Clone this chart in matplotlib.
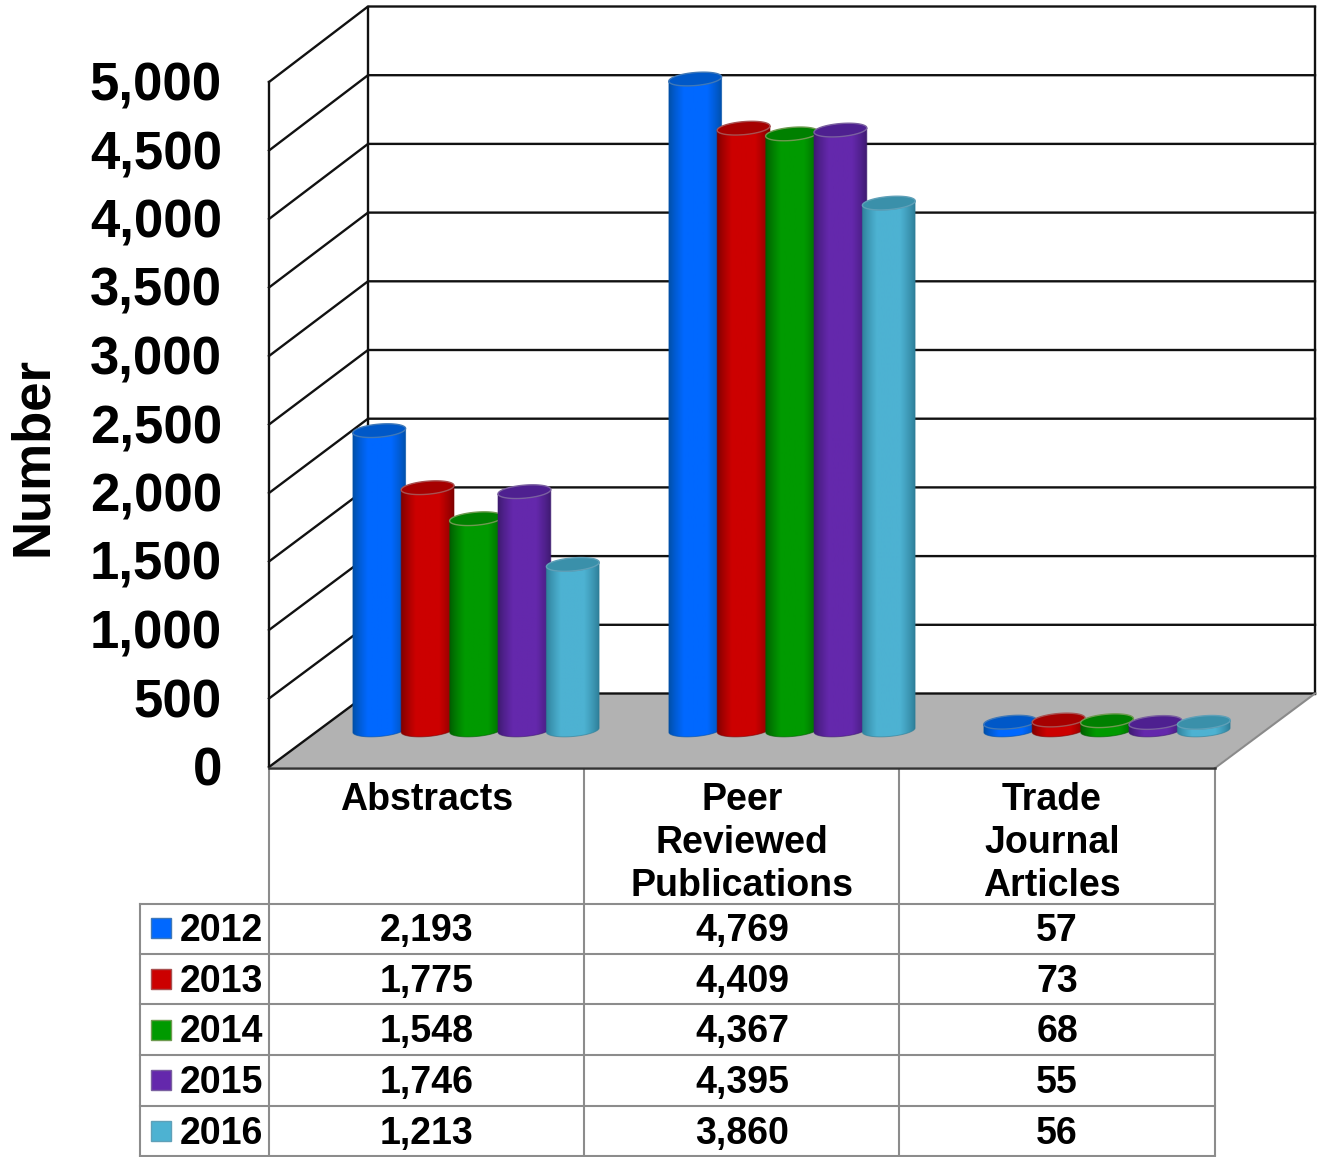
"""Publications by year, drawn as a 3D-look cylinder chart with a data table."""

from __future__ import annotations

import matplotlib

matplotlib.use("Agg")
import matplotlib.pyplot as plt
import numpy as np
from matplotlib.colors import to_rgb
from matplotlib.patches import Polygon, Rectangle

plt.rcParams["font.family"] = ["Liberation Sans", "DejaVu Sans"]

years = ["2012", "2013", "2014", "2015", "2016"]
abstracts = [2193, 1775, 1548, 1746, 1213]
peer_reviewed = [4769, 4409, 4367, 4395, 3860]
trade_journal = [57, 73, 68, 55, 56]
category_labels = ["Abstracts", "Peer\nReviewed\nPublications", "Trade\nJournal\nArticles"]
y_ticks = [0, 500, 1000, 1500, 2000, 2500, 3000, 3500, 4000, 4500, 5000]

# main, edge shade, cap, rim
palette = [
    ("#0068FF", "#004FA8", "#0058C8", "#3F78B8"),
    ("#CC0000", "#7E0000", "#A60000", "#A85050"),
    ("#009A00", "#005F00", "#008000", "#6E9A50"),
    ("#6428AC", "#3E1A70", "#4E2090", "#7A60A0"),
    ("#4DB2D2", "#2E7F99", "#3A90AA", "#5FA0B8"),
]

W, H = 1319, 1157
FRONT_SCALE = 0.137
BACK_SCALE = 0.1374
BAR_SCALE = 0.1365
FRONT_ZERO = 767
BACK_ZERO = 693.5
FRONT_LEFT, FRONT_RIGHT = 269, 1215
BACK_LEFT, BACK_RIGHT = 368, 1315
BAR_BASE = 730
BAR_A, BAR_B = 26.5, 6.5
TILT = np.radians(5)
CAT_CENTERS = [476, 792, 1107]
BAR_STEP = 48.4
COLUMNS = [269, 584, 899, 1215]
ROWS = [903.5, 953.5, 1004, 1055, 1106, 1156]
ROW_CENTERS = [928, 979, 1029.5, 1080, 1131]
GRID = "#8C8C8C"
WALL_LW = 1.7


def _ellipse(cx: float, cy: float, t: np.ndarray) -> tuple[np.ndarray, np.ndarray]:
    x = cx + BAR_A * np.cos(t) * np.cos(TILT) + BAR_B * np.sin(t) * np.sin(TILT)
    y = cy - BAR_A * np.cos(t) * np.sin(TILT) + BAR_B * np.sin(t) * np.cos(TILT)
    return x, y


def _shade(main: str, edge: str) -> np.ndarray:
    main_rgb, edge_rgb = np.array(to_rgb(main)), np.array(to_rgb(edge))
    u = np.linspace(0, 1, 64)
    w = np.clip(1 - np.abs(u - 0.5) / 0.5, 0, 1)
    w = np.clip(w / 0.55, 0, 1) ** 0.8
    return (edge_rgb[None, :] * (1 - w[:, None]) + main_rgb[None, :] * w[:, None])[None, :, :]


def _draw_bar(ax, cx: float, value: float, colors: tuple[str, str, str, str]) -> None:
    main, edge, cap, rim = colors
    top = BAR_BASE - value * BAR_SCALE
    start = np.arctan2(BAR_B * np.sin(TILT), BAR_A * np.cos(TILT))
    t = np.linspace(start, start + np.pi, 60)
    bx, by = _ellipse(cx, BAR_BASE, t)
    tx, ty = _ellipse(cx, top, t[::-1])
    verts = np.column_stack([np.r_[bx, tx], np.r_[by, ty]])
    body = Polygon(verts, closed=True, facecolor="none", edgecolor="none", zorder=3)
    ax.add_patch(body)
    x0, x1 = verts[:, 0].min(), verts[:, 0].max()
    im = ax.imshow(
        _shade(main, edge),
        extent=(x0, x1, verts[:, 1].max(), verts[:, 1].min()),
        aspect="auto",
        interpolation="bilinear",
        zorder=3,
    )
    im.set_clip_path(body)
    ax.add_patch(Polygon(verts, closed=True, facecolor="none", edgecolor=edge, lw=0.7, alpha=0.6, zorder=3))
    ct = np.linspace(0, 2 * np.pi, 90)
    cap_x, cap_y = _ellipse(cx, top, ct)
    ax.add_patch(Polygon(np.column_stack([cap_x, cap_y]), closed=True, facecolor=cap, edgecolor=rim, lw=1.0, zorder=3))


def main_plot() -> None:
    fig = plt.figure(figsize=(W / 100, H / 100), dpi=100)
    ax = fig.add_axes([0, 0, 1, 1])

    # walls and floor
    ax.add_patch(Polygon(
        [(FRONT_LEFT, FRONT_ZERO), (FRONT_RIGHT, FRONT_ZERO), (BACK_RIGHT, BACK_ZERO), (BACK_LEFT, BACK_ZERO)],
        closed=True, facecolor="#B2B2B2", edgecolor="none", zorder=1,
    ))
    for tick in y_ticks:
        front_y = FRONT_ZERO - tick * FRONT_SCALE
        back_y = BACK_ZERO - tick * BACK_SCALE
        ax.plot([FRONT_LEFT, BACK_LEFT, BACK_RIGHT], [front_y, back_y, back_y], color="#111111", lw=WALL_LW, zorder=2)
        ax.text(222, front_y - 1, f"{tick:,}", ha="right", va="center_baseline", fontsize=38,
                fontweight="bold", color="black")
    top_front = FRONT_ZERO - y_ticks[-1] * FRONT_SCALE
    top_back = BACK_ZERO - y_ticks[-1] * BACK_SCALE
    for x, y0, y1 in [
        (FRONT_LEFT, top_front, FRONT_ZERO),
        (BACK_LEFT, top_back, BACK_ZERO),
        (BACK_RIGHT, top_back, BACK_ZERO),
    ]:
        ax.plot([x, x], [y0, y1], color="#111111", lw=WALL_LW, zorder=2)
    ax.plot([FRONT_RIGHT, BACK_RIGHT], [FRONT_ZERO + 1, BACK_ZERO], color="#8A8A8A", lw=1.5, zorder=2)
    ax.plot([FRONT_LEFT, FRONT_RIGHT], [FRONT_ZERO + 1, FRONT_ZERO + 1], color="#333333", lw=1.8, zorder=4)

    # cylinders
    series = [abstracts, peer_reviewed, trade_journal]
    for center, values in zip(CAT_CENTERS, series):
        for i, value in enumerate(values):
            _draw_bar(ax, center + (i - 2) * BAR_STEP, value, palette[i])

    # data table
    for x in COLUMNS:
        ax.plot([x, x], [FRONT_ZERO + 1, ROWS[-1]], color=GRID, lw=1.5, zorder=2, solid_capstyle="butt")
    ax.plot([140, 140], [ROWS[0], ROWS[-1]], color=GRID, lw=1.5, zorder=2)
    for y in ROWS:
        ax.plot([140, FRONT_RIGHT], [y, y], color=GRID, lw=1.5, zorder=2)

    header_x = [427, 742, 1052]
    for x, label in zip(header_x, category_labels):
        for n, line in enumerate(label.split("\n")):
            ax.text(x, 796.5 + n * 42.8, line, ha="center", va="center_baseline", fontsize=27, fontweight="bold")

    value_x = [427, 742, 1057]
    for r, year in enumerate(years):
        y = ROW_CENTERS[r]
        ax.add_patch(Rectangle((151, y - 10), 20, 20, facecolor=palette[r][0], edgecolor=palette[r][3], lw=1, zorder=3))
        ax.text(180, y - 1, year, ha="left", va="center_baseline", fontsize=27, fontweight="bold")
        for x, values in zip(value_x, series):
            ax.text(x, y - 1, f"{values[r]:,}", ha="center", va="center_baseline", fontsize=27, fontweight="bold")

    ax.text(33.5, 456, "Number", rotation=90, ha="center", va="center", fontsize=38, fontweight="bold")

    ax.set_xlim(0, W)
    ax.set_ylim(H, 0)
    ax.axis("off")
    fig.savefig("out.png", dpi=100, facecolor="white")
    plt.close(fig)


if __name__ == "__main__":
    main_plot()
